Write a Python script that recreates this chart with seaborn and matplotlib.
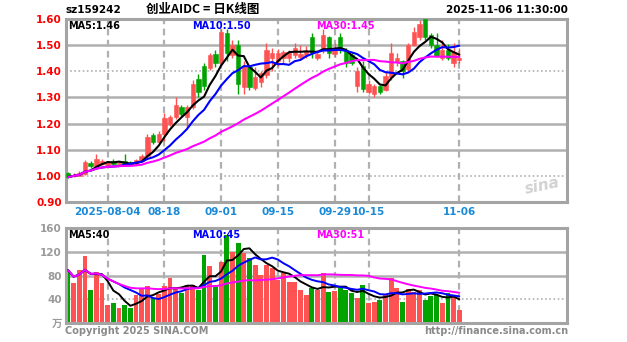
import numpy as np
import pandas as pd
import matplotlib
matplotlib.use("Agg")
import matplotlib.pyplot as plt
import seaborn as sns

# ---- data -----------------------------------------------------------------
code = "sz159242"
name = "创业AIDC"
chart_kind = "日K线图"
stamp = "2025-11-06 11:30:00"

holidays = ["2025-10-01", "2025-10-02", "2025-10-03",
            "2025-10-06", "2025-10-07", "2025-10-08"]
dates = [d for d in pd.bdate_range("2025-07-24", "2025-11-06")
         if d.strftime("%Y-%m-%d") not in holidays]

opens = [1.010, 0.998, 1.000, 1.008, 1.050, 1.036, 1.046, 1.040, 1.058, 1.044,
         1.056, 1.050, 1.044, 1.058, 1.076, 1.155, 1.130, 1.160, 1.200, 1.225,
         1.265, 1.225, 1.262, 1.372, 1.420, 1.412, 1.468, 1.430, 1.548, 1.462,
         1.500, 1.340, 1.415, 1.335, 1.360, 1.385, 1.450, 1.440, 1.450, 1.450,
         1.462, 1.455, 1.462, 1.530, 1.452, 1.482, 1.530, 1.465, 1.530, 1.480,
         1.462, 1.345, 1.420, 1.322, 1.312, 1.345, 1.330, 1.380, 1.435, 1.440,
         1.410, 1.500, 1.530, 1.600, 1.540, 1.500, 1.452, 1.482, 1.432, 1.442]
closes = [0.995, 1.005, 1.012, 1.052, 1.036, 1.066, 1.058, 1.052, 1.046, 1.050,
          1.046, 1.042, 1.060, 1.076, 1.150, 1.130, 1.162, 1.222, 1.225, 1.272,
          1.236, 1.262, 1.350, 1.322, 1.345, 1.462, 1.430, 1.550, 1.470, 1.500,
          1.350, 1.420, 1.340, 1.380, 1.392, 1.480, 1.470, 1.470, 1.475, 1.470,
          1.490, 1.468, 1.478, 1.470, 1.465, 1.540, 1.470, 1.490, 1.480, 1.432,
          1.432, 1.400, 1.332, 1.352, 1.342, 1.322, 1.382, 1.470, 1.450, 1.402,
          1.500, 1.550, 1.580, 1.530, 1.500, 1.460, 1.482, 1.452, 1.472, 1.452]
highs = [1.013, 1.010, 1.018, 1.062, 1.055, 1.085, 1.064, 1.058, 1.065, 1.056,
         1.085, 1.058, 1.066, 1.082, 1.162, 1.165, 1.170, 1.240, 1.232, 1.300,
         1.272, 1.270, 1.365, 1.390, 1.430, 1.470, 1.480, 1.560, 1.560, 1.520,
         1.520, 1.440, 1.425, 1.415, 1.400, 1.510, 1.490, 1.485, 1.480, 1.480,
         1.510, 1.500, 1.495, 1.545, 1.480, 1.560, 1.535, 1.510, 1.545, 1.490,
         1.470, 1.415, 1.440, 1.365, 1.350, 1.348, 1.400, 1.510, 1.470, 1.445,
         1.510, 1.570, 1.595, 1.605, 1.545, 1.545, 1.520, 1.505, 1.510, 1.490]
lows = [0.990, 0.995, 0.998, 1.005, 1.030, 1.032, 1.040, 1.036, 1.042, 1.040,
        1.042, 1.038, 1.040, 1.052, 1.070, 1.122, 1.125, 1.135, 1.190, 1.218,
        1.225, 1.185, 1.255, 1.300, 1.330, 1.405, 1.418, 1.425, 1.440, 1.450,
        1.315, 1.315, 1.330, 1.330, 1.340, 1.375, 1.400, 1.420, 1.430, 1.435,
        1.450, 1.445, 1.450, 1.450, 1.445, 1.470, 1.450, 1.455, 1.470, 1.415,
        1.425, 1.320, 1.320, 1.315, 1.300, 1.312, 1.325, 1.365, 1.420, 1.375,
        1.400, 1.495, 1.520, 1.520, 1.490, 1.455, 1.445, 1.445, 1.415, 1.430]
volumes = [89, 67, 89, 113, 56, 86, 67, 30, 34, 25,
           30, 26, 47, 57, 63, 42, 49, 63, 76, 61,
           50, 64, 64, 56, 114, 96, 64, 103, 148, 120,
           134, 118, 109, 98, 81, 98, 92, 72, 84, 69,
           69, 56, 47, 59, 56, 84, 53, 54, 59, 56,
           50, 42, 64, 34, 35, 39, 47, 76, 59, 36,
           58, 52, 55, 39, 45, 47, 34, 50, 47, 22]

tick_dates = ["2025-08-04", "2025-08-18", "2025-09-01", "2025-09-15",
              "2025-09-29", "2025-10-15", "2025-11-06"]
tick_labels = ["2025-08-04", "08-18", "09-01", "09-15", "09-29", "10-15", "11-06"]
price_ticks = [0.90, 1.00, 1.10, 1.20, 1.30, 1.40, 1.50, 1.60]
price_dotted = [1.00, 1.40]
vol_ticks = [40, 80, 120, 160]
vol_dotted = [40]
ma_windows = [5, 10, 30]
ma_colors = ["#000000", "#0000ff", "#ff00ff"]

# ---- frame ----------------------------------------------------------------
df = pd.DataFrame({"date": dates, "open": opens, "high": highs, "low": lows,
                   "close": closes, "volume": volumes})
df["idx"] = np.arange(len(df))
df["up"] = df["close"] >= df["open"]
for w in ma_windows:
    df[f"ma{w}"] = df["close"].rolling(w, min_periods=1).mean()
    df[f"vma{w}"] = df["volume"].rolling(w, min_periods=1).mean()

date_str = [d.strftime("%Y-%m-%d") for d in df["date"]]
tick_pos = [date_str.index(t) for t in tick_dates]

sns.set_style("white")
plt.rcParams["font.family"] = ["DejaVu Sans", "Noto Sans CJK SC"]

RED = "#ff5252"
GREEN = "#00a300"
GRID = "#b0b0b0"
FRAME = "#a4a4a4"

W, H = 627, 342
fig = plt.figure(figsize=(W / 100, H / 100), dpi=100)
fig.patch.set_facecolor("white")


def fx(px):
    return px / W


def fy(py):
    return 1 - py / H


ax = fig.add_axes([fx(66), fy(202), (567 - 66) / W, (202 - 19) / H])
axv = fig.add_axes([fx(66), fy(323), (567 - 66) / W, (323 - 228) / H])

x0, x1 = -0.35, 88.0
for a in (ax, axv):
    a.set_xlim(x0, x1)
    a.set_facecolor("white")
    for s in a.spines.values():
        s.set_color(FRAME)
        s.set_linewidth(2.2)
    for p in tick_pos:
        a.axvline(p, color=GRID, lw=1.6, ls=(0, (3, 2)), zorder=0)
    a.set_xticks([])

# price grid
ax.set_ylim(0.90, 1.60)
for lv in price_ticks[1:-1]:
    if lv in price_dotted:
        ax.axhline(lv, color=GRID, lw=1.2, ls=(0, (1, 1.5)), zorder=0)
    else:
        ax.axhline(lv, color=GRID, lw=1.8, zorder=0)
ax.set_yticks(price_ticks)
ax.set_yticklabels([f"{v:.2f}" for v in price_ticks])
ax.tick_params(axis="y", length=0, pad=3, labelsize=7.5, labelcolor="#ff0000")
for t in ax.get_yticklabels():
    t.set_fontweight("bold")

# candles
for r in df.itertuples():
    col = RED if r.up else GREEN
    ax.vlines(r.idx, r.low, r.high, color=col, lw=1.0, zorder=2)
    body = max(abs(r.close - r.open), 0.003)
    ax.bar(r.idx, body, bottom=min(r.open, r.close), width=0.78,
           color=col, edgecolor=col, lw=0.4, zorder=3)

for w, c in zip(ma_windows, ma_colors):
    sns.lineplot(data=df, x="idx", y=f"ma{w}", color=c, lw=1.5, ax=ax, zorder=4)
ax.set_xlabel("")
ax.set_ylabel("")

# volume panel
axv.set_ylim(0, 160)
for lv in vol_ticks[:-1]:
    if lv in vol_dotted:
        axv.axhline(lv, color=GRID, lw=1.2, ls=(0, (1, 1.5)), zorder=0)
    else:
        axv.axhline(lv, color=GRID, lw=1.8, zorder=0)
axv.bar(df["idx"], df["volume"], width=0.85,
        color=[RED if u else GREEN for u in df["up"]], lw=0, zorder=2)
for w, c in zip(ma_windows, ma_colors):
    sns.lineplot(data=df, x="idx", y=f"vma{w}", color=c, lw=1.4, ax=axv, zorder=4)
axv.set_xlabel("")
axv.set_ylabel("")
axv.set_yticks([0] + vol_ticks)
axv.set_yticklabels(["万"] + [str(v) for v in vol_ticks])
axv.tick_params(axis="y", length=0, pad=3, labelsize=7.5, labelcolor="#9a9a9a")
for t in axv.get_yticklabels():
    t.set_fontweight("bold")

# date labels under the price panel
for p, lab in zip(tick_pos, tick_labels):
    ax.text(p, -0.025, lab, transform=ax.get_xaxis_transform(), ha="center",
            va="top", fontsize=7.5, fontweight="bold", color="#1a8ad8")

# header
fig.text(fx(65), fy(10), code, fontsize=7.5, fontweight="bold", va="center",
         color="#000000")
fig.text(fx(203), fy(10), f"{name} = {chart_kind}", fontsize=9,
         fontweight="bold", ha="center", va="center", color="#000000",
         family=["Noto Sans CJK SC", "DejaVu Sans"])
fig.text(fx(568), fy(10), stamp, fontsize=7.5, fontweight="bold", ha="right",
         va="center", color="#000000")

# moving-average captions
last = df.iloc[-1]
cap_x = [68, 192, 316]
for w, c, cx in zip(ma_windows, ma_colors, cap_x):
    fig.text(fx(cx), fy(26), f"MA{w}:{last[f'ma{w}']:.2f}", fontsize=7,
             fontweight="bold", va="center", color=c)
    fig.text(fx(cx), fy(235), f"MA{w}:{last[f'vma{w}']:.0f}", fontsize=7,
             fontweight="bold", va="center", color=c)

# watermark and footer
fig.text(fx(542), fy(186), "sina", fontsize=11, fontstyle="italic",
         fontweight="bold", color="#d2d2d2", ha="center", va="center",
         rotation=12)
fig.text(fx(65), fy(331), "Copyright 2025 SINA.COM", fontsize=7,
         fontweight="bold", color="#8a8a8a", va="center")
fig.text(fx(568), fy(331), "http://finance.sina.com.cn", fontsize=7,
         fontweight="bold", color="#8a8a8a", va="center", ha="right")

fig.savefig("out.png", dpi=100, facecolor="white")
